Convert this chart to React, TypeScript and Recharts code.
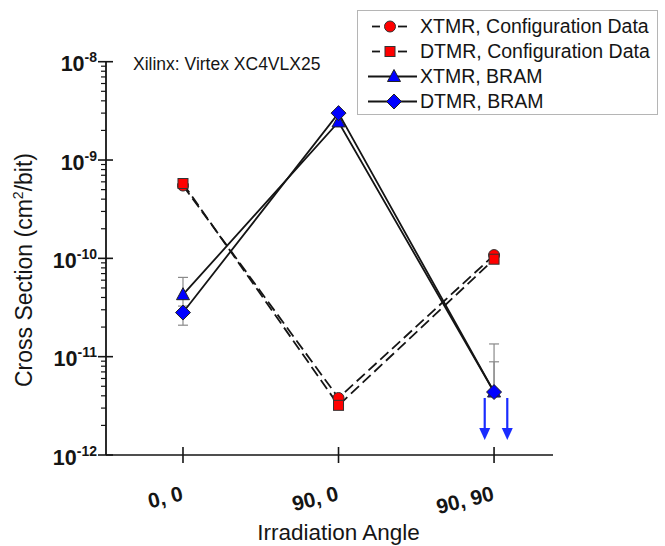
import React from 'react';
import { ComposedChart, Line, Scatter, XAxis, YAxis, ErrorBar, Legend } from 'recharts';

// ---- data ----
const categories = ['0, 0', '90, 0', '90, 90'];
const categoryX = [0, 1, 2];
const xtmrConfig = [5.5e-10, 3.8e-12, 1.08e-10];
const dtmrConfig = [5.77e-10, 3.2e-12, 9.8e-11];
const xtmrBram = [4.27e-11, 2.44e-9, 4.37e-12];
const dtmrBram = [2.81e-11, 3.0e-9, 4.37e-12];
// error bars as [below, above] the value (null = none)
const xtmrBramErr: (number[] | null)[] = [[1.0e-11, 2.13e-11], null, [0, 9.1e-12]];
const dtmrBramErr: (number[] | null)[] = [[0.72e-11, 0], null, [0, 4.5e-12]];
// upper-limit arrows at the 90, 90 position
const arrowX = [1.94, 2.085];
const arrowY = [3.8e-12, 3.8e-12];
const yMajorTicks = [1e-12, 1e-11, 1e-10, 1e-9, 1e-8];
const xDomain = [-0.495, 2.379];

const FONT = '"Liberation Sans", Arial, Helvetica, sans-serif';
const INK = '#151515';

const build = (vals: number[], errs?: (number[] | null)[]) =>
  categoryX.map((x, i) => ({ x, y: vals[i], err: errs ? errs[i] ?? undefined : undefined }));

const xtmrConfigData = build(xtmrConfig);
const dtmrConfigData = build(dtmrConfig);
const xtmrBramData = build(xtmrBram, xtmrBramErr);
const dtmrBramData = build(dtmrBram, dtmrBramErr);
const arrowData = arrowX.map((x, i) => ({ x, y: arrowY[i] }));

const yTicks: number[] = [];
yMajorTicks.forEach((m, i) => {
  yTicks.push(m);
  if (i < yMajorTicks.length - 1) for (let k = 2; k <= 9; k++) yTicks.push(m * k);
});

// ---- marker shapes ----
const CircleMark = ({ cx, cy }: any) => (
  <circle cx={cx} cy={cy} r={5.5} fill="#ff0000" stroke="#333" strokeWidth={1} />
);
const SquareMark = ({ cx, cy }: any) => (
  <rect x={cx - 5} y={cy - 5} width={10} height={10} fill="#ff0000" stroke="#333" strokeWidth={1} />
);
const TriangleMark = ({ cx, cy }: any) => (
  <polygon
    points={`${cx},${cy - 7} ${cx - 6.5},${cy + 5} ${cx + 6.5},${cy + 5}`}
    fill="#0000ff"
    stroke="#222"
    strokeWidth={1}
  />
);
const DiamondMark = ({ cx, cy }: any) => (
  <polygon
    points={`${cx},${cy - 7.5} ${cx + 7.5},${cy} ${cx},${cy + 7.5} ${cx - 7.5},${cy}`}
    fill="#0000ff"
    stroke="#222"
    strokeWidth={1}
  />
);

const dotFn = (Comp: any) => (p: any) => {
  if (p.cx == null || p.cy == null) return <g key={p.key} />;
  return (
    <g key={p.key}>
      <Comp cx={p.cx} cy={p.cy} />
    </g>
  );
};

const ArrowShape = (p: any) => {
  const { cx, cy } = p;
  if (cx == null) return <g />;
  const len = 42;
  return (
    <g>
      <line x1={cx} y1={cy} x2={cx} y2={cy + len - 10} stroke="#1a2cff" strokeWidth={2.2} />
      <polygon
        points={`${cx - 5.5},${cy + len - 12} ${cx + 5.5},${cy + len - 12} ${cx},${cy + len}`}
        fill="#1a2cff"
      />
    </g>
  );
};

// ---- axis ticks ----
const YTick = (props: any) => {
  const { x, y, payload } = props;
  const v = payload.value;
  const lg = Math.log10(v);
  const major = Math.abs(lg - Math.round(lg)) < 1e-6;
  if (!major) {
    return <line x1={x - 5} x2={x} y1={y} y2={y} stroke={INK} strokeWidth={1.2} />;
  }
  return (
    <g>
      <line x1={x - 8} x2={x + 7} y1={y} y2={y} stroke={INK} strokeWidth={1.6} />
      <text
        x={x - 9}
        y={y + 9.5}
        textAnchor="end"
        fontFamily={FONT}
        fontWeight="bold"
        fontSize={21.5}
        fill={INK}
      >
        10
        <tspan dy={-9} fontSize={14}>
          {String(Math.round(lg))}
        </tspan>
      </text>
    </g>
  );
};

const XTick = (props: any) => {
  const { x, y, payload } = props;
  const idx = categoryX.indexOf(payload.value);
  const label = idx >= 0 ? categories[idx] : '';
  const bx = x + 1;
  const by = y + 45;
  return (
    <g>
      <line x1={x} x2={x} y1={y - 8} y2={y + 8} stroke={INK} strokeWidth={1.6} />
      <text
        x={bx}
        y={by}
        textAnchor="end"
        fontFamily={FONT}
        fontWeight="bold"
        fontSize={21}
        fill={INK}
        transform={`rotate(-14, ${bx}, ${by})`}
      >
        {label}
      </text>
    </g>
  );
};

// ---- legend ----
const legendItems = [
  { label: 'XTMR, Configuration Data', mark: CircleMark, dashed: true },
  { label: 'DTMR, Configuration Data', mark: SquareMark, dashed: true },
  { label: 'XTMR, BRAM', mark: TriangleMark, dashed: false },
  { label: 'DTMR, BRAM', mark: DiamondMark, dashed: false },
];

const LegendBox = () => (
  <div
    style={{
      border: '1px solid #b5b5b5',
      background: '#fff',
      paddingTop: 3,
      paddingLeft: 10,
      width: 289,
      boxSizing: 'content-box',
      fontFamily: FONT,
      fontSize: 19.5,
      color: INK,
    }}
  >
    {legendItems.map((it) => {
      const M = it.mark;
      const c = it.dashed ? 22 : 26;
      return (
        <div key={it.label} style={{ height: 25, display: 'flex', alignItems: 'center' }}>
          <svg width={50} height={25} style={{ display: 'block', flex: 'none' }}>
            {it.dashed ? (
              <g stroke={INK} strokeWidth={1.8}>
                <line x1={4} x2={12} y1={12.5} y2={12.5} />
                <line x1={30} x2={39} y1={12.5} y2={12.5} />
              </g>
            ) : (
              <line x1={0} x2={49} y1={12.5} y2={12.5} stroke={INK} strokeWidth={1.8} />
            )}
            <M cx={c} cy={12.5} />
          </svg>
          <span style={{ marginLeft: 2, whiteSpace: 'nowrap', lineHeight: '25px' }}>{it.label}</span>
        </div>
      );
    })}
  </div>
);

const YLabel = () => (
  <text
    x={32}
    y={270}
    textAnchor="middle"
    fontFamily={FONT}
    fontSize={23}
    fill={INK}
    transform="rotate(-90, 32, 270)"
  >
    Cross Section (cm
    <tspan dy={-9} fontSize={14}>
      2
    </tspan>
    <tspan dy={9}>/bit)</tspan>
  </text>
);

const XLabel = (p: any) => {
  const vb = p.viewBox || { x: 106, width: 447, y: 455 };
  const cx = vb.x + vb.width / 2 + 9;
  return (
    <text x={cx} y={540} textAnchor="middle" fontFamily={FONT} fontSize={22.5} fill={INK}>
      Irradiation Angle
    </text>
  );
};

export default function App() {
  return (
    <div style={{ position: 'fixed', left: 0, top: 0, width: 665, height: 546, background: '#fff' }}>
      <ComposedChart
        width={665}
        height={546}
        margin={{ top: 61.7, right: 112, bottom: 90, left: 105 }}
        style={{ background: '#fff' }}
      >
        <XAxis
          type="number"
          dataKey="x"
          domain={xDomain}
          ticks={categoryX}
          interval={0}
          allowDataOverflow
          height={1}
          tickSize={0}
          tickMargin={0}
          tickLine={false}
          axisLine={{ stroke: INK, strokeWidth: 1.6 }}
          tick={<XTick />}
          label={{ content: (p: any) => <XLabel {...p} /> }}
        />
        <YAxis
          type="number"
          dataKey="y"
          scale="log"
          domain={[1e-12, 1e-8]}
          ticks={yTicks}
          interval={0}
          allowDataOverflow
          width={1}
          tickSize={0}
          tickMargin={0}
          tickLine={false}
          axisLine={{ stroke: INK, strokeWidth: 1.8 }}
          tick={<YTick />}
          label={{ content: () => <YLabel /> }}
        />
        <Legend
          layout="vertical"
          align="center"
          verticalAlign="middle"
          wrapperStyle={{ left: 357, top: 10, right: 'auto', bottom: 'auto', width: 'auto' }}
          content={() => <LegendBox />}
        />
        <Line
          data={xtmrConfigData}
          dataKey="y"
          name="XTMR, Configuration Data"
          type="linear"
          stroke={INK}
          strokeWidth={1.8}
          strokeDasharray="11 5"
          dot={dotFn(CircleMark)}
          activeDot={false}
          isAnimationActive={false}
        />
        <Line
          data={dtmrConfigData}
          dataKey="y"
          name="DTMR, Configuration Data"
          type="linear"
          stroke={INK}
          strokeWidth={1.8}
          strokeDasharray="11 5"
          dot={dotFn(SquareMark)}
          activeDot={false}
          isAnimationActive={false}
        />
        <Line
          data={xtmrBramData}
          dataKey="y"
          name="XTMR, BRAM"
          type="linear"
          stroke={INK}
          strokeWidth={1.8}
          dot={dotFn(TriangleMark)}
          activeDot={false}
          isAnimationActive={false}
        >
          <ErrorBar dataKey="err" direction="y" width={5} stroke="#8a8a8a" strokeWidth={1.2} />
        </Line>
        <Line
          data={dtmrBramData}
          dataKey="y"
          name="DTMR, BRAM"
          type="linear"
          stroke={INK}
          strokeWidth={1.8}
          dot={dotFn(DiamondMark)}
          activeDot={false}
          isAnimationActive={false}
        >
          <ErrorBar dataKey="err" direction="y" width={5} stroke="#8a8a8a" strokeWidth={1.2} />
        </Line>
        <Scatter data={arrowData} dataKey="y" shape={<ArrowShape />} isAnimationActive={false} legendType="none" />
        <text x={133} y={70} fontFamily={FONT} fontSize={17.5} fill={INK}>
          Xilinx: Virtex XC4VLX25
        </text>
      </ComposedChart>
    </div>
  );
}
